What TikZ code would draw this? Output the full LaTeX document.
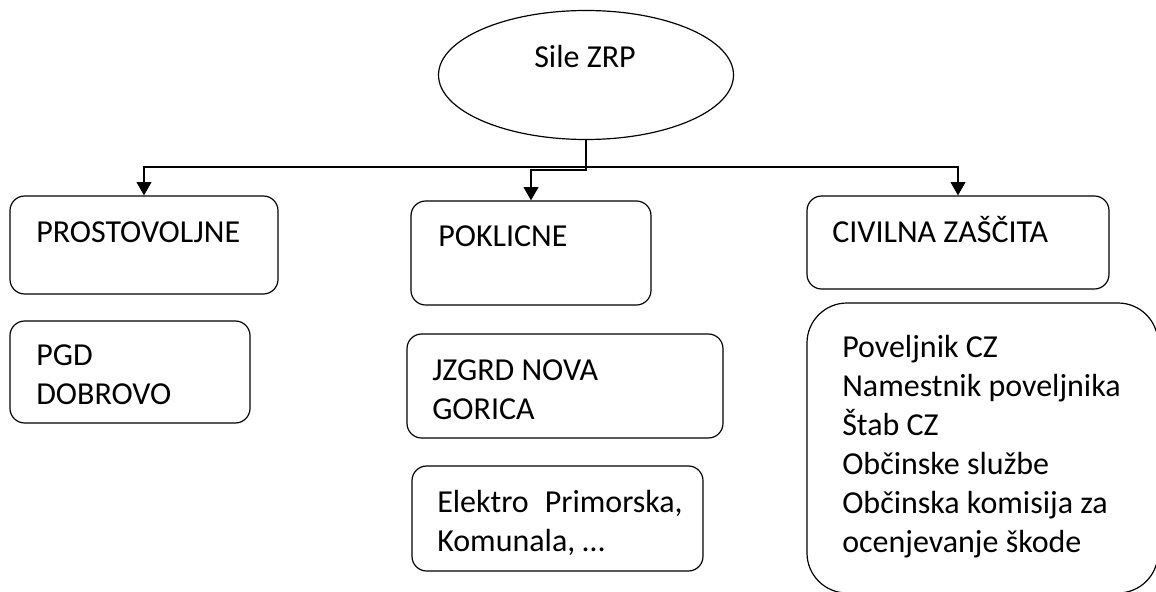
\documentclass[tikz,border=0pt]{standalone}
\usepackage{fontspec}
\setmainfont{Carlito}
\usetikzlibrary{shapes.geometric,arrows.meta}

\tikzset{
  box/.style={draw, rounded corners=11pt, line width=0.9pt, inner sep=0pt},
  txt/.style={anchor=base west, inner sep=0pt, align=left, font=\fontsize{24}{29.25}\selectfont},
  conn/.style={line width=1.5pt},
  arr/.style={conn, -{Triangle[length=10pt,width=11pt]}}
}

\begin{document}
\begin{tikzpicture}[x=0.75pt,y=-0.75pt]
\useasboundingbox (0,0) rectangle (1156,592);
% root
\node [draw, ellipse, line width=0.9pt, inner sep=0pt, minimum width=295*0.75pt, minimum height=129*0.75pt] (sile) at (586,75) {};
\node [txt, anchor=base] (sileTxt) at (585,68) {Sile ZRP};
% first row
\node [box, minimum width=268*0.75pt, minimum height=98*0.75pt] (prost) at (144,245) {};
\node [txt] (prostTxt) at (36,242) {PROSTOVOLJNE};
\node [box, minimum width=240*0.75pt, minimum height=104*0.75pt] (poklic) at (531,253) {};
\node [txt] (poklicTxt) at (438,246) {POKLICNE};
\node [box, minimum width=302*0.75pt, minimum height=93*0.75pt] (civil) at (958,242.5) {};
\node [txt] (civilTxt) at (832,242) {CIVILNA ZAŠČITA};
% second row (multi-line texts sit on the baseline of their last line)
\node [box, minimum width=240*0.75pt, minimum height=102*0.75pt] (pgd) at (130,372) {};
\node [txt] (pgdTxt) at (36,404) {PGD\\DOBROVO};
\node [box, minimum width=316*0.75pt, minimum height=104*0.75pt] (jzgrd) at (565,386) {};
\node [txt] (jzgrdTxt) at (432,419) {JZGRD NOVA\\GORICA};
\node [box, minimum width=291*0.75pt, minimum height=105*0.75pt] (elektro) at (557.5,518.5) {};
\node [txt] (elektroTxt) at (437,551) {Elektro\hspace{0.5em}Primorska,\\Komunala, …};
\node [box, rounded corners=30pt, minimum width=351*0.75pt, minimum height=290*0.75pt] (cz) at (982.5,448) {};
\node [txt] (czTxt) at (842,552) {Poveljnik CZ\\Namestnik poveljnika\\Štab CZ\\Občinske službe\\Občinska komisija za\\ocenjevanje škode};
% connectors
\coordinate (hub) at (sile.south |- 0,167);
\draw [conn] (sile.south) -- (hub);
\draw [arr] (hub) -| (prost.north);
\draw [arr] (hub) -| (civil.north);
\draw [arr] (hub) -- ++(0,3) -| (poklic.north);
\end{tikzpicture}
\end{document}
